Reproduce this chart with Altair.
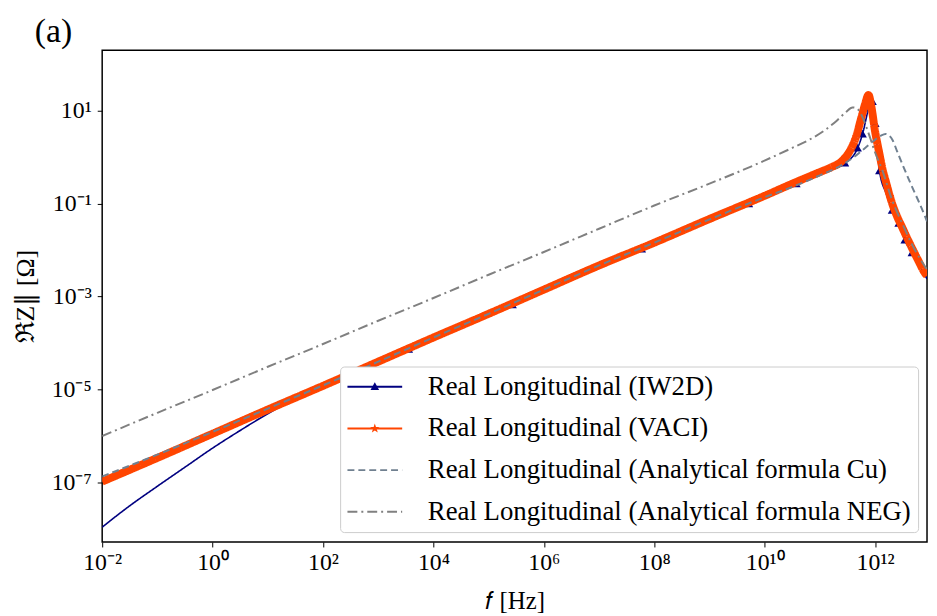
import json
import numpy as np
import pandas as pd
import altair as alt

# ---------------- axis ranges and tick labels (log10 units) ----------------
x_domain_log = [-2.0, 12.94]
y_domain_log = [-8.28, 2.30]
x_tick_exps = [-2, 0, 2, 4, 6, 8, 10, 12]
x_tick_labels = ["10⁻²", "10⁰", "10²", "10⁴", "10⁶", "10⁸", "10¹⁰", "10¹²"]
y_tick_exps = [-7, -5, -3, -1, 1]
y_tick_labels = ["10⁻⁷", "10⁻⁵", "10⁻³", "10⁻¹", "10¹"]

# ---------------- series labels ----------------
LBL_IW = "Real Longitudinal (IW2D)"
LBL_VA = "Real Longitudinal (VACI)"
LBL_CU = "Real Longitudinal (Analytical formula Cu)"
LBL_NEG = "Real Longitudinal (Analytical formula NEG)"
series_labels = [LBL_IW, LBL_VA, LBL_CU, LBL_NEG]
marker_labels = [LBL_IW, LBL_VA]

# ---------------- data (log10 f [Hz], log10 ReZ [Ohm]) ----------------
iw_lf = [-2, -1.5, -1, -0.5, 0, 0.5, 1, 1.5, 2, 3, 3.55, 4, 5, 5.43, 6, 7, 7.77, 8, 9, 9.71,
         10, 10.57, 11.0, 11.45, 11.68, 11.77, 11.86, 11.92, 11.95, 12.0, 12.08, 12.2, 12.31,
         12.43, 12.54, 12.67, 12.8, 12.94]
iw_lz = [-7.96, -7.50, -7.08, -6.67, -6.26, -5.88, -5.52, -5.20, -4.95, -4.43, -4.14, -3.91,
         -3.40, -3.18, -2.88, -2.36, -1.98, -1.87, -1.36, -1.01, -0.86, -0.58, -0.35, -0.13,
         0.19, 0.49, 0.95, 1.25, 1.19, 0.72, -0.30, -0.78, -1.15, -1.43, -1.79, -2.06, -2.33, -2.62]

iw_marker_lf = [3.55, 5.43, 7.77, 9.71, 10.57, 11.45, 11.68, 11.77, 11.95, 12.0, 12.08,
                12.31, 12.43, 12.54, 12.67]
iw_marker_lz = [-4.14, -3.18, -1.98, -1.01, -0.58, -0.13, 0.19, 0.49, 1.19, 0.72, -0.30,
                -1.15, -1.43, -1.79, -2.06]

vaci_lf = [-2, -1, 0, 1, 2, 3, 4, 5, 6, 7, 8, 9, 10, 10.5, 11.0, 11.2, 11.4, 11.55, 11.65,
           11.75, 11.82, 11.88, 11.93, 12.0, 12.07, 12.13, 12.2, 12.31, 12.4, 12.49, 12.58,
           12.67, 12.78, 12.9, 12.94]
vaci_lz = [-6.98, -6.47, -5.95, -5.43, -4.92, -4.40, -3.88, -3.37, -2.85, -2.33, -1.84, -1.33,
           -0.83, -0.57, -0.32, -0.22, -0.08, 0.15, 0.42, 0.85, 1.15, 1.34, 1.10, 0.55, 0.12,
           -0.23, -0.55, -1.00, -1.28, -1.51, -1.74, -1.96, -2.22, -2.49, -2.55]

cu_lf = [-2, -1, 0, 1, 2, 3, 4, 5, 6, 7, 8, 9, 10, 10.5, 11.0, 11.41, 11.7, 11.95, 12.1, 12.19,
         12.25, 12.32, 12.4, 12.5, 12.6, 12.7, 12.8, 12.94]
cu_lz = [-6.87, -6.40, -5.91, -5.41, -4.91, -4.40, -3.88, -3.37, -2.85, -2.33, -1.84, -1.34,
         -0.86, -0.64, -0.39, -0.16, 0.08, 0.33, 0.46, 0.50, 0.47, 0.36, 0.12, -0.17, -0.45,
         -0.72, -0.98, -1.38]

neg_lf = [-2, -1, 0, 1, 2, 3, 4, 5, 6, 7, 8, 9, 9.91, 10.5, 10.8, 11.1, 11.3, 11.47, 11.59,
          11.65, 11.72, 11.78, 11.85, 11.92, 12.0, 12.13, 12.3, 12.5, 12.7, 12.94]
neg_lz = [-6.00, -5.50, -5.01, -4.51, -4.02, -3.52, -3.03, -2.53, -2.04, -1.54, -1.04, -0.57,
          -0.12, 0.20, 0.37, 0.59, 0.78, 0.97, 1.07, 1.06, 0.98, 0.84, 0.62, 0.38, 0.10, -0.28,
          -0.90, -1.45, -1.95, -2.42]

# ---------------- styles ----------------
series_colors = ["#000080", "#ff4500", "#708090", "#808080"]
series_dashes = [[1, 0], [1, 0], [7, 4], [10, 4, 2, 4]]
marker_colors = ["#000080", "#ff4500"]
TRI = "M0,-0.38L0.36,0.26L-0.36,0.26Z"
STAR = ("M0,-0.42L0.098,-0.135L0.40,-0.13L0.16,0.05L0.247,0.34L0,0.168L-0.247,0.34"
        "L-0.16,0.05L-0.40,-0.13L-0.098,-0.135Z")
marker_shapes = [TRI, STAR]
FONT = "Liberation Serif"


def frame(lf, lz, label, key="series"):
    return pd.DataFrame({"f": np.power(10.0, np.array(lf, dtype=float)),
                         "z": np.power(10.0, np.array(lz, dtype=float)),
                         key: label})


iw_df = frame(iw_lf, iw_lz, LBL_IW)
va_df = frame(vaci_lf, vaci_lz, LBL_VA)
cu_df = frame(cu_lf, cu_lz, LBL_CU)
neg_df = frame(neg_lf, neg_lz, LBL_NEG)
mk_df = frame(iw_marker_lf, iw_marker_lz, LBL_IW, key="mseries")

x_label_expr = json.dumps(x_tick_labels, ensure_ascii=False) + \
    "[round((log(datum.value)/LN10 + 2)/2)]"
y_label_expr = json.dumps(y_tick_labels, ensure_ascii=False) + \
    "[round((log(datum.value)/LN10 + 7)/2)]"

x_enc = alt.X(
    "f:Q",
    scale=alt.Scale(type="log", domain=[10 ** x_domain_log[0], 10 ** x_domain_log[1]], nice=False),
    axis=alt.Axis(values=[10.0 ** e for e in x_tick_exps], labelExpr=x_label_expr,
                  title="𝑓 [Hz]", labelPadding=4, titlePadding=14, titleFontSize=25),
)
y_enc = alt.Y(
    "z:Q",
    scale=alt.Scale(type="log", domain=[10 ** y_domain_log[0], 10 ** y_domain_log[1]], nice=False),
    axis=alt.Axis(values=[10.0 ** e for e in y_tick_exps], labelExpr=y_label_expr,
                  title="ℜZ∥ [Ω]", labelPadding=6, titlePadding=13, titleFontSize=26),
)

LEG_X, LEG_Y = 240, 319
common_leg = dict(orient="none", legendX=LEG_X, legendY=LEG_Y, title=None,
                  symbolSize=576, symbolStrokeWidth=2, labelFont=FONT, labelFontSize=27,
                  labelLimit=0, rowPadding=14, padding=7, symbolOffset=14.5, labelOffset=40)
line_legend = alt.Legend(symbolType="M-2.3,0H2.3", fillColor="white", strokeColor="#cccccc",
                         cornerRadius=4, labelColor="black", **common_leg)
marker_legend = alt.Legend(labelOpacity=0, **common_leg)

color_scale = alt.Scale(domain=series_labels, range=series_colors)
dash_scale = alt.Scale(domain=series_labels, range=series_dashes)


def line_layer(df, width):
    return alt.Chart(df).mark_line(strokeWidth=width, clip=True, interpolate="monotone",
                                   strokeJoin="round").encode(
        x=x_enc, y=y_enc,
        color=alt.Color("series:N", scale=color_scale, legend=line_legend),
        strokeDash=alt.StrokeDash("series:N", scale=dash_scale, legend=line_legend),
    )


markers = alt.Chart(mk_df).mark_point(filled=True, size=625, clip=True, opacity=1,
                                      strokeWidth=0).encode(
    x=x_enc, y=y_enc,
    shape=alt.Shape("mseries:N", scale=alt.Scale(domain=marker_labels, range=marker_shapes),
                    legend=marker_legend),
    fill=alt.Fill("mseries:N", scale=alt.Scale(domain=marker_labels, range=marker_colors),
                  legend=marker_legend),
)

chart = alt.layer(
    line_layer(iw_df, 1.6),
    markers,
    line_layer(va_df, 8),
    line_layer(cu_df, 2),
    line_layer(neg_df, 2),
).properties(
    width=832, height=496,
    padding={"left": 95, "top": 40, "right": 2, "bottom": 72},
    autosize=alt.AutoSizeParams(type="none"),
    title=alt.TitleParams(text="(a)", anchor="start", frame="group", dx=-68, offset=1,
                          fontSize=34, font=FONT, fontWeight="normal", color="black"),
).configure(font=FONT).configure_view(
    stroke="black", strokeWidth=1.5
).configure_axis(
    domain=False, grid=False, ticks=True, tickColor="black", tickSize=5, tickWidth=1,
    labelColor="black", titleColor="black", labelFont=FONT, labelFontSize=24,
    titleFont=FONT, titleFontWeight="normal", labelFlush=False,
    labelOverlap=False,
)

chart.save("out.html", embed_options={"renderer": "svg", "actions": False})
